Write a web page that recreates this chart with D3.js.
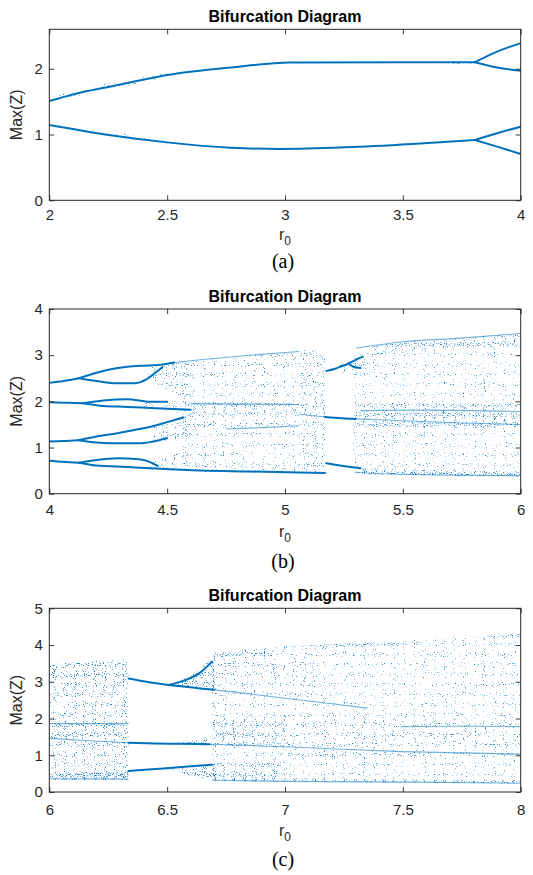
<!DOCTYPE html>
<html>
<head>
<meta charset="utf-8">
<script src="https://cdn.jsdelivr.net/npm/d3@7"></script>
<style>
  body { margin: 0; background: #fff; }
  svg { display: block; }
</style>
</head>
<body>
<script>
// values: [r0, Max(Z)] for periodic branches,
// [r0, low, high] for the chaotic bands
const aTicksR = [2, 2.5, 3, 3.5, 4];
const aTicksZ = [0, 1, 2];
const aBranches = [
  [[2, 1.51], [2.1, 1.61], [2.26, 1.73], [2.51, 1.91], [2.77, 2.02], [3.02, 2.095], [3.5, 2.1], [3.806, 2.1]],
  [[3.806, 2.1], [3.9, 2.26], [4, 2.39]],
  [[3.806, 2.1], [3.9, 2.02], [4, 1.97]],
  [[2, 1.146], [2.26, 0.99], [2.51, 0.877], [2.77, 0.8], [2.98, 0.78], [3.26, 0.806], [3.54, 0.857], [3.806, 0.918]],
  [[3.806, 0.918], [3.9, 1.02], [4, 1.12]],
  [[3.806, 0.918], [3.9, 0.816], [4, 0.705]]
];
const aEdges = [];
const aBands = [
  { k: "lo", pts: [[2.02, 1.5, 1.6], [2.25, 1.68, 1.78], [2.5, 1.86, 1.94]] },
  { k: "lo", pts: [[2.05, 1.08, 1.15], [2.3, 0.93, 1.02], [2.5, 0.85, 0.9]] },
  { k: "lo", pts: [[3.62, 2.08, 2.13], [3.8, 2.07, 2.14]] }
];

const bTicksR = [4, 4.5, 5, 5.5, 6];
const bTicksZ = [0, 1, 2, 3, 4];
const bBranches = [
  [[4, 2.4], [4.06, 2.44], [4.125, 2.5]],
  [[4.125, 2.5], [4.2, 2.62], [4.29, 2.72], [4.385, 2.77], [4.47, 2.79], [4.53, 2.84]],
  [[4.125, 2.5], [4.2, 2.44], [4.29, 2.39], [4.36, 2.39], [4.41, 2.47], [4.45, 2.62], [4.48, 2.74]],
  [[4, 1.98], [4.08, 1.97], [4.145, 1.96]],
  [[4.145, 1.96], [4.23, 2.02], [4.33, 2.045], [4.43, 1.99], [4.5, 1.99]],
  [[4.145, 1.96], [4.23, 1.9], [4.33, 1.88], [4.45, 1.85], [4.6, 1.82]],
  [[4, 1.13], [4.06, 1.14], [4.123, 1.16]],
  [[4.123, 1.16], [4.2, 1.24], [4.29, 1.31], [4.36, 1.38], [4.43, 1.45], [4.5, 1.55], [4.57, 1.65]],
  [[4.123, 1.16], [4.2, 1.11], [4.3, 1.09], [4.38, 1.09], [4.44, 1.13], [4.5, 1.2]],
  [[4, 0.715], [4.06, 0.69], [4.127, 0.67]],
  [[4.127, 0.67], [4.2, 0.73], [4.29, 0.767], [4.38, 0.745], [4.42, 0.7], [4.46, 0.6]],
  [[4.127, 0.67], [4.2, 0.61], [4.29, 0.59], [4.43, 0.55], [4.64, 0.5], [4.85, 0.48], [5.06, 0.46], [5.17, 0.45]],
  [[5.175, 2.66], [5.21, 2.7], [5.245, 2.77], [5.27, 2.82]],
  [[5.27, 2.82], [5.3, 2.9], [5.33, 2.97]],
  [[5.27, 2.82], [5.29, 2.75], [5.32, 2.72]],
  [[5.175, 0.66], [5.22, 0.62], [5.27, 0.585], [5.32, 0.55]],
  [[5.17, 1.66], [5.24, 1.635], [5.3, 1.62]]
];
const bEdges = [
  [[4.53, 2.84], [4.64, 2.9], [4.85, 3.0], [5.06, 3.08]],
  [[4.6, 1.95], [4.85, 1.94], [5.06, 1.93]],
  [[4.75, 1.4], [4.9, 1.43], [5.06, 1.47]],
  [[5.06, 1.72], [5.17, 1.66]],
  [[5.3, 1.62], [5.5, 1.58], [5.75, 1.53], [6, 1.5]],
  [[5.3, 3.15], [5.5, 3.29], [5.75, 3.37], [6, 3.47]],
  [[5.32, 1.8], [5.6, 1.81], [6, 1.78]],
  [[5.3, 0.46], [5.5, 0.42], [6, 0.39]]
];
const bBands = [
  { k: "mid", pts: [[4.42, 2.5, 2.78], [4.47, 2.3, 2.82], [4.53, 2.15, 2.85], [4.6, 2.0, 2.88]] },
  { k: "mid", pts: [[4.4, 1.83, 2.0], [4.5, 1.78, 2.02], [4.6, 1.74, 2.05]] },
  { k: "mid", pts: [[4.44, 1.1, 1.45], [4.5, 1.13, 1.58], [4.6, 1.2, 1.74]] },
  { k: "mid", pts: [[4.42, 0.52, 0.72], [4.5, 0.5, 0.8], [4.6, 0.48, 0.98]] },
  { k: "lo", pts: [[4.56, 0.48, 2.86], [4.64, 0.48, 2.9], [4.85, 0.47, 3.0], [5.06, 0.46, 3.08]] },
  { k: "mid", pts: [[4.6, 1.72, 1.98], [5.06, 1.7, 1.96]] },
  { k: "lo", pts: [[4.6, 1.25, 1.72], [5.06, 1.3, 1.55]] },
  { k: "mid", pts: [[4.6, 0.47, 0.62], [5.06, 0.45, 0.55]] },
  { k: "lo", pts: [[4.6, 2.5, 2.88], [5.06, 2.7, 3.08]] },
  { k: "mid", pts: [[5.06, 0.45, 3.1], [5.17, 0.45, 3.12]] },
  { k: "mid", pts: [[5.23, 2.62, 2.85], [5.33, 2.62, 3.0]] },
  { k: "lo", pts: [[5.29, 0.45, 3.12], [5.4, 0.43, 3.22], [5.5, 0.42, 3.29], [5.75, 0.4, 3.37], [6, 0.38, 3.47]] },
  { k: "mid", pts: [[5.3, 1.45, 1.95], [6, 1.4, 1.95]] },
  { k: "hi", pts: [[5.3, 0.42, 0.55], [6, 0.37, 0.48]] },
  { k: "mid", pts: [[5.35, 3.0, 3.18], [5.6, 3.1, 3.32], [6, 3.2, 3.47]] }
];

const cTicksR = [6, 6.5, 7, 7.5, 8];
const cTicksZ = [0, 1, 2, 3, 4, 5];
const cBranches = [
  [[6.336, 3.09], [6.43, 2.98], [6.505, 2.91]],
  [[6.505, 2.91], [6.57, 3.03], [6.64, 3.25], [6.69, 3.55]],
  [[6.505, 2.91], [6.57, 2.87], [6.64, 2.82], [6.7, 2.78]],
  [[6.336, 1.34], [6.45, 1.32], [6.55, 1.31], [6.68, 1.3]],
  [[6.336, 0.57], [6.42, 0.61], [6.5, 0.645]],
  [[6.5, 0.645], [6.6, 0.7], [6.69, 0.74]]
];
const cEdges = [
  [[6.7, 2.78], [6.85, 2.67], [7.0, 2.55], [7.2, 2.4], [7.35, 2.28]],
  [[6.68, 1.3], [7, 1.23], [7.5, 1.1], [8, 1.03]],
  [[6, 1.46], [6.15, 1.4], [6.336, 1.34]],
  [[6, 1.86], [6.336, 1.86]],
  [[6, 0.36], [6.336, 0.35]],
  [[6.69, 0.32], [7, 0.29], [7.5, 0.27], [8, 0.24]],
  [[7.49, 1.78], [7.75, 1.79], [8, 1.78]]
];
const cBands = [
  { k: "mid", pts: [[6, 0.33, 3.48], [6.2, 0.33, 3.56], [6.336, 0.33, 3.62]] },
  { k: "mid", pts: [[6, 3.1, 3.48], [6.336, 2.95, 3.62]] },
  { k: "mid", pts: [[6, 1.35, 1.88], [6.336, 1.3, 1.88]] },
  { k: "hi", pts: [[6, 0.33, 0.5], [6.336, 0.33, 0.56]] },
  { k: "hi", pts: [[6.52, 2.89, 2.95], [6.6, 2.83, 3.18], [6.7, 2.78, 3.7]] },
  { k: "hi", pts: [[6.56, 1.3, 1.34], [6.69, 1.27, 1.52]] },
  { k: "hi", pts: [[6.52, 0.6, 0.66], [6.6, 0.45, 0.72], [6.7, 0.3, 0.76]] },
  { k: "lo", pts: [[6.69, 2.7, 3.8], [6.9, 2.62, 3.92], [7.1, 2.45, 3.98]] },
  { k: "mid", pts: [[6.69, 1.25, 2.0], [7.0, 1.2, 2.1]] },
  { k: "mid", pts: [[6.69, 0.3, 0.78], [7.0, 0.28, 0.9]] },
  { k: "lo", pts: [[6.69, 0.3, 3.8], [6.95, 0.29, 3.95]] },
  { k: "lo", pts: [[6.95, 0.29, 3.95], [7.5, 0.27, 4.12], [8, 0.24, 4.33]] },
  { k: "lo", pts: [[7.0, 0.9, 2.1], [8, 0.9, 2.0]] },
  { k: "hi", pts: [[6.69, 0.3, 0.4], [8, 0.23, 0.32]] },
  { k: "mid", pts: [[6.69, 3.65, 3.8], [7.0, 3.82, 3.96], [7.5, 4.0, 4.12], [8, 4.2, 4.33]] }
];

const W = 533, H = 875;
const blue = "#0072BD", ink = "#262626";

const panels = [
  { tag: "(a)", r: [2, 4], z: [0, 2.6], rt: aTicksR, zt: aTicksZ, branches: aBranches, edges: aEdges, bands: aBands,
    box: [49.3, 29.3, 520.7, 200.3], titleY: 22.3, pad: 9.5, labY: 240, capY: 268 },
  { tag: "(b)", r: [4, 6], z: [0, 4], rt: bTicksR, zt: bTicksZ, branches: bBranches, edges: bEdges, bands: bBands,
    box: [49.3, 309, 520.7, 493.7], titleY: 301.7, pad: 11, labY: 537, capY: 568 },
  { tag: "(c)", r: [6, 8], z: [0, 5], rt: cTicksR, zt: cTicksZ, branches: cBranches, edges: cEdges, bands: cBands,
    box: [49.3, 608.3, 520.7, 792], titleY: 600.7, pad: 12, labY: 836, capY: 866 }
];

const svg = d3.select("body").append("svg")
  .attr("width", W)
  .attr("height", H);

const defs = svg.append("defs");

// speckle texture so the chaotic bands read as scattered dots:
// thresholded noise used as a mask over a flat blue flood
const speckle = { lo: [0.65, 11], mid: [0.62, 23], hi: [0.57, 37] };
Object.entries(speckle).forEach(([k, [t, seed]]) => {
  const s = 8;
  const f = defs.append("filter")
    .attr("id", "sp-" + k)
    .attr("color-interpolation-filters", "sRGB");
  f.append("feTurbulence")
    .attr("type", "fractalNoise")
    .attr("baseFrequency", 0.9)
    .attr("numOctaves", 1)
    .attr("seed", seed)
    .attr("result", "n");
  f.append("feColorMatrix")
    .attr("in", "n")
    .attr("type", "matrix")
    .attr("values", `0 0 0 0 0  0 0 0 0 0  0 0 0 0 0  ${s} 0 0 0 ${-s * t}`)
    .attr("result", "m");
  f.append("feFlood")
    .attr("flood-color", "#1a7fc6")
    .attr("result", "c");
  f.append("feComposite")
    .attr("in", "c")
    .attr("in2", "m")
    .attr("operator", "in")
    .attr("result", "cm");
  f.append("feComposite")
    .attr("in", "cm")
    .attr("in2", "SourceAlpha")
    .attr("operator", "in");
});

panels.forEach((p, i) => {
  const [x0, y0, x1, y1] = p.box;
  const x = d3.scaleLinear().domain(p.r).range([x0, x1]);
  const y = d3.scaleLinear().domain(p.z).range([y1, y0]);

  defs.append("clipPath").attr("id", "clip" + i)
    .append("rect")
    .attr("x", x0).attr("y", y0)
    .attr("width", x1 - x0).attr("height", y1 - y0);

  const g = svg.append("g");
  const plot = g.append("g").attr("clip-path", `url(#clip${i})`);

  const area = d3.area()
    .x(d => x(d[0]))
    .y0(d => y(d[1]))
    .y1(d => y(d[2]))
    .curve(d3.curveMonotoneX);
  const line = d3.line()
    .x(d => x(d[0]))
    .y(d => y(d[1]))
    .curve(d3.curveMonotoneX);

  plot.selectAll(".band")
    .data(p.bands)
    .join("path")
    .attr("class", "band")
    .attr("d", d => area(d.pts))
    .attr("fill", blue)
    .attr("filter", d => `url(#sp-${d.k})`);

  plot.selectAll(".edge")
    .data(p.edges)
    .join("path")
    .attr("class", "edge")
    .attr("d", line)
    .attr("fill", "none")
    .attr("stroke", blue)
    .attr("stroke-opacity", 0.55)
    .attr("stroke-width", 1.1);

  plot.selectAll(".branch")
    .data(p.branches)
    .join("path")
    .attr("class", "branch")
    .attr("d", line)
    .attr("fill", "none")
    .attr("stroke", blue)
    .attr("stroke-width", 2)
    .attr("stroke-linecap", "round");

  // axes, MATLAB style: inward ticks on all four sides
  const fmt = d3.format("~g");
  const axB = g.append("g").attr("transform", `translate(0,${y1})`)
    .call(d3.axisBottom(x).tickValues(p.rt).tickFormat(fmt).tickSize(-5).tickSizeOuter(0).tickPadding(p.pad));
  const axT = g.append("g").attr("transform", `translate(0,${y0})`)
    .call(d3.axisTop(x).tickValues(p.rt).tickFormat("").tickSize(-5).tickSizeOuter(0));
  const axL = g.append("g").attr("transform", `translate(${x0},0)`)
    .call(d3.axisLeft(y).tickValues(p.zt).tickFormat(fmt).tickSize(-5).tickSizeOuter(0).tickPadding(6.5));
  const axR = g.append("g").attr("transform", `translate(${x1},0)`)
    .call(d3.axisRight(y).tickValues(p.zt).tickFormat("").tickSize(-5).tickSizeOuter(0));

  [axB, axT, axL, axR].forEach(a => {
    a.select(".domain").remove();
    a.selectAll("line").attr("stroke", ink).attr("stroke-width", 0.9);
    a.selectAll("text")
      .attr("fill", ink)
      .style("font-family", "'Liberation Sans', Arial, sans-serif")
      .style("font-size", "15px");
  });

  g.append("rect")
    .attr("x", x0).attr("y", y0)
    .attr("width", x1 - x0).attr("height", y1 - y0)
    .attr("fill", "none")
    .attr("stroke", ink)
    .attr("stroke-width", 1);

  const cx = (x0 + x1) / 2;

  g.append("text")
    .attr("x", cx).attr("y", p.titleY)
    .attr("text-anchor", "middle")
    .style("font-family", "'Liberation Sans', Arial, sans-serif")
    .style("font-size", "16px")
    .style("font-weight", "bold")
    .attr("fill", "#000")
    .text("Bifurcation Diagram");

  g.append("text")
    .attr("transform", `translate(22,${(y0 + y1) / 2}) rotate(-90)`)
    .attr("text-anchor", "middle")
    .style("font-family", "'Liberation Sans', Arial, sans-serif")
    .style("font-size", "16px")
    .attr("fill", ink)
    .text("Max(Z)");

  const lab = g.append("text")
    .attr("x", cx).attr("y", p.labY)
    .attr("text-anchor", "middle")
    .style("font-family", "'Liberation Sans', Arial, sans-serif")
    .style("font-size", "16px")
    .attr("fill", ink);
  lab.append("tspan").text("r");
  lab.append("tspan").attr("dy", 5).style("font-size", "12px").text("0");

  g.append("text")
    .attr("x", cx - 2).attr("y", p.capY)
    .attr("text-anchor", "middle")
    .style("font-family", "'Liberation Serif', 'Times New Roman', serif")
    .style("font-size", "20px")
    .attr("fill", "#000")
    .text(p.tag);
});
</script>
</body>
</html>
